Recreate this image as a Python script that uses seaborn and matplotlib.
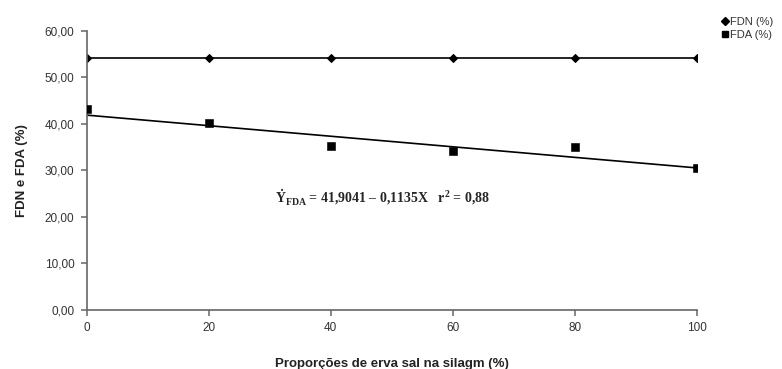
import matplotlib
import matplotlib.pyplot as plt
import pandas as pd
import seaborn as sns
from matplotlib.lines import Line2D

matplotlib.use("Agg")

# --- DATA ---
proportions = [0, 20, 40, 60, 80, 100]
fdn = [54.1, 54.1, 54.1, 54.1, 54.1, 54.1]
fda = [43.2, 40.2, 35.3, 34.2, 35.1, 30.5]
fda_intercept = 41.9041
fda_slope = -0.1135
y_ticks = [0, 10, 20, 30, 40, 50, 60]
y_tick_labels = ["0,00", "10,00", "20,00", "30,00", "40,00", "50,00", "60,00"]
x_ticks = [0, 20, 40, 60, 80, 100]

df = pd.DataFrame({"x": proportions, "FDN (%)": fdn, "FDA (%)": fda})
df["fit"] = fda_intercept + fda_slope * df["x"]

sns.set_theme(style="white")
plt.rcParams["font.family"] = ["Liberation Sans", "DejaVu Sans"]
plt.rcParams["mathtext.fontset"] = "custom"
plt.rcParams["mathtext.rm"] = "Liberation Serif:bold"
plt.rcParams["mathtext.bf"] = "Liberation Serif:bold"

fig = plt.figure(figsize=(7.82, 3.69), dpi=100)
ax = fig.add_axes([0.111, 0.16, 0.780, 0.756])

sns.lineplot(data=df, x="x", y="FDN (%)", ax=ax, color="black", lw=1.2,
             marker="D", markersize=4.5, markeredgecolor="black", legend=False)
sns.scatterplot(data=df, x="x", y="FDA (%)", ax=ax, color="black", marker="s",
                s=28, edgecolor="black", legend=False, zorder=3)
sns.lineplot(data=df, x="x", y="fit", ax=ax, color="black", lw=1.2, legend=False)

ax.set_xlim(0, 100)
ax.set_ylim(0, 60)
ax.set_xticks(x_ticks)
ax.set_xticklabels([str(v) for v in x_ticks], fontsize=8.5, color="#333333")
ax.set_yticks(y_ticks)
ax.set_yticklabels(y_tick_labels, fontsize=8.5, color="#333333")
ax.tick_params(axis="both", direction="out", length=4, width=1.1, color="#666666",
               bottom=True, left=True, pad=5)
for side in ["top", "right"]:
    ax.spines[side].set_visible(False)
for side in ["left", "bottom"]:
    ax.spines[side].set_color("#666666")
    ax.spines[side].set_linewidth(1.2)

ax.set_xlabel("Proporções de erva sal na silagm (%)", fontsize=9.5, fontweight="bold",
              labelpad=17, color="#222222")
ax.set_ylabel("FDN e FDA (%)", fontsize=9.5, fontweight="bold", labelpad=12,
              color="#222222")

ax.text(30.8, 23.2, r"$\dot{\mathrm{Y}}_{\mathbf{FDA}}$ = 41,9041 – 0,1135X   r$^{2}$ = 0,88",
        fontsize=10, fontweight="bold", family="Liberation Serif", va="baseline")

handles = [
    Line2D([], [], ls="none", marker="D", color="black", markersize=4.5, label="FDN (%)"),
    Line2D([], [], ls="none", marker="s", color="black", markersize=5, label="FDA (%)"),
]
fig.legend(handles=handles, loc="upper left", bbox_to_anchor=(722 / 782, 1 - 17 / 369),
           frameon=False, fontsize=8, handlelength=0.6, handletextpad=0.15,
           labelspacing=0.3, borderaxespad=0, borderpad=0, labelcolor="#333333")

fig.savefig("out.png", dpi=100, facecolor="white")
